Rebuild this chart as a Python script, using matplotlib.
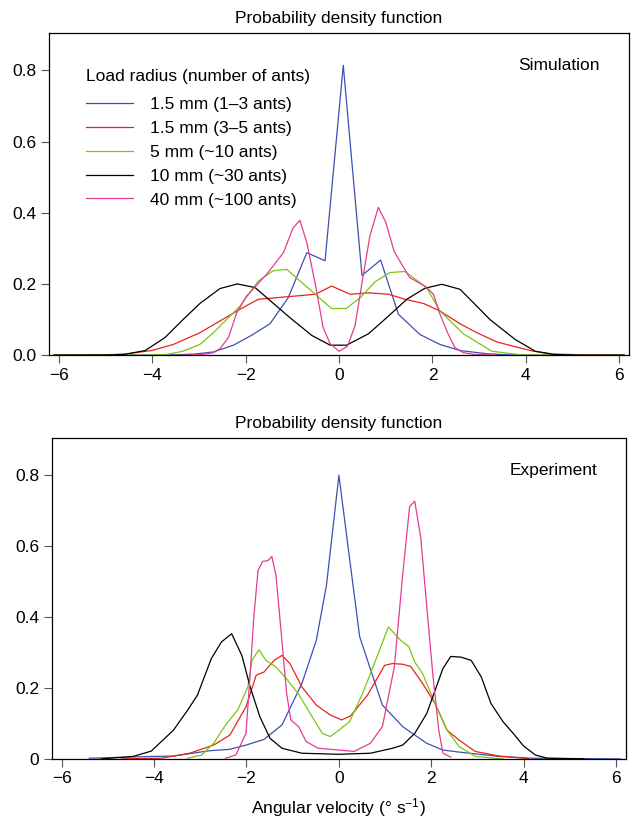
import numpy as np
import matplotlib
matplotlib.use('Agg')
from matplotlib import pyplot as plt

plt.rcParams['font.family'] = ['Liberation Sans', 'DejaVu Sans']
plt.rcParams['mathtext.fontset'] = 'custom'
plt.rcParams['mathtext.rm'] = 'Liberation Sans'
plt.rcParams['mathtext.it'] = 'Liberation Sans:italic'

labels = ['1.5 mm (1\u20133 ants)', '1.5 mm (3\u20135 ants)', '5 mm (~10 ants)',
          '10 mm (~30 ants)', '40 mm (~100 ants)']
colors = ['#3e4fb4', '#e8241c', '#7cc413', '#000000', '#e53b93']

# simulation (top panel)
sim_blue_x = [-6.1, -4.5, -3.5, -3.1, -2.69, -2.26, -1.87, -1.48, -1.09, -0.69, -0.30, 0.09,
              0.49, 0.89, 1.27, 1.73, 2.16, 2.59, 3.16, 3.6, 4.5, 6.1]
sim_blue_y = [0, 0, 0.001, 0.003, 0.009, 0.028, 0.056, 0.088, 0.161, 0.288, 0.265, 0.814,
              0.224, 0.267, 0.115, 0.058, 0.030, 0.013, 0.004, 0.001, 0, 0]
sim_red_x = [-6.1, -5.0, -4.58, -4.01, -3.55, -2.98, -2.55, -2.12, -1.73, -0.94, -0.51, -0.16,
             0.24, 0.63, 1.06, 1.41, 1.81, 2.16, 2.59, 2.95, 3.38, 3.73, 4.16, 4.59, 5.2, 6.1]
sim_red_y = [0, 0.001, 0.003, 0.013, 0.030, 0.063, 0.096, 0.129, 0.157, 0.166, 0.171, 0.194,
             0.171, 0.175, 0.171, 0.157, 0.145, 0.124, 0.088, 0.063, 0.037, 0.025, 0.011, 0.003, 0.001, 0]
sim_green_x = [-6.1, -4.2, -3.69, -3.34, -2.98, -2.69, -2.12, -1.73, -1.41, -1.12, -0.16, 0.15,
               0.45, 0.77, 1.09, 1.41, 1.87, 2.16, 2.66, 3.27, 3.88, 4.5, 6.1]
sim_green_y = [0, 0, 0.002, 0.011, 0.030, 0.063, 0.138, 0.208, 0.237, 0.241, 0.131, 0.131,
               0.161, 0.206, 0.232, 0.235, 0.19, 0.124, 0.06, 0.011, 0.001, 0, 0]
sim_black_x = [-6.1, -5.0, -4.6, -4.15, -3.73, -3.37, -2.98, -2.55, -2.18, -1.80, -1.42, -1.05,
               -0.58, -0.19, 0.16, 0.63, 1.06, 1.45, 1.84, 2.2, 2.59, 2.9, 3.23, 3.77, 4.2, 4.59, 5.2, 6.1]
sim_black_y = [0, 0.0005, 0.002, 0.013, 0.049, 0.096, 0.145, 0.187, 0.20, 0.19, 0.147, 0.105,
               0.055, 0.028, 0.028, 0.06, 0.11, 0.157, 0.188, 0.199, 0.185, 0.144, 0.10, 0.044, 0.011, 0.002, 0, 0]
sim_pink_x = [-3.4, -2.9, -2.69, -2.55, -2.37, -2.19, -1.98, -1.55, -1.19, -0.99, -0.84, -0.69,
              -0.51, -0.34, -0.19, 0.0, 0.18, 0.34, 0.50, 0.66, 0.84, 1.0, 1.18, 1.51, 1.86, 2.02,
              2.16, 2.34, 2.48, 2.66, 2.9, 3.4]
sim_pink_y = [0, 0.002, 0.007, 0.018, 0.049, 0.119, 0.166, 0.227, 0.288, 0.356, 0.379, 0.316,
              0.20, 0.077, 0.032, 0.011, 0.025, 0.082, 0.21, 0.335, 0.415, 0.373, 0.291, 0.218, 0.192, 0.171,
              0.115, 0.058, 0.021, 0.007, 0.002, 0]

# experiment (bottom panel)
exp_blue_x = [-5.4, -4.01, -3.58, -2.80, -2.36, -2.01, -1.62, -1.23, -0.80, -0.49, -0.27, 0.0,
              0.20, 0.45, 0.94, 1.38, 1.90, 2.25, 2.68, 3.47, 4.16, 6.1]
exp_blue_y = [0.002, 0.007, 0.008, 0.023, 0.027, 0.039, 0.055, 0.096, 0.213, 0.334, 0.489, 0.80,
              0.596, 0.344, 0.152, 0.091, 0.044, 0.025, 0.018, 0.007, 0.002, 0]
exp_red_x = [-4.71, -3.84, -3.23, -2.71, -2.36, -2.01, -1.79, -1.62, -1.4, -1.23, -1.06, -0.80,
             -0.49, -0.19, 0.06, 0.25, 0.62, 0.99, 1.16, 1.38, 1.55, 1.81, 2.08, 2.34, 2.6, 2.95,
             3.47, 3.99, 4.1]
exp_red_y = [0, 0.002, 0.016, 0.039, 0.067, 0.147, 0.236, 0.245, 0.278, 0.292, 0.269, 0.203,
             0.152, 0.124, 0.11, 0.121, 0.18, 0.264, 0.269, 0.267, 0.261, 0.213, 0.156, 0.081, 0.053, 0.021,
             0.008, 0.002, 0]
exp_green_x = [-3.27, -2.97, -2.71, -2.45, -2.19, -1.97, -1.88, -1.73, -1.58, -1.36, -1.14, -0.88,
               -0.62, -0.36, -0.19, 0.0, 0.23, 0.51, 0.85, 1.07, 1.34, 1.51, 1.64, 1.81, 2.08, 2.34,
               2.60, 2.95, 3.55]
exp_green_y = [0.002, 0.011, 0.044, 0.096, 0.138, 0.203, 0.278, 0.308, 0.278, 0.259, 0.227, 0.184,
               0.128, 0.072, 0.063, 0.081, 0.105, 0.184, 0.297, 0.372, 0.334, 0.317, 0.273, 0.241, 0.156, 0.081,
               0.035, 0.007, 0]
exp_black_x = [-5.14, -4.45, -4.06, -3.84, -3.58, -3.27, -3.06, -2.76, -2.54, -2.32, -2.1, -1.92,
               -1.71, -1.49, -1.23, -0.8, 0.0, 0.68, 1.16, 1.38, 1.64, 1.90, 2.25, 2.42, 2.64, 2.86,
               3.08, 3.29, 3.55, 3.77, 3.99, 4.25, 4.51, 5.3]
exp_black_y = [0, 0.007, 0.022, 0.049, 0.081, 0.138, 0.18, 0.283, 0.33, 0.353, 0.292, 0.203,
               0.119, 0.058, 0.030, 0.016, 0.013, 0.016, 0.030, 0.039, 0.072, 0.128, 0.255, 0.289, 0.287, 0.278,
               0.231, 0.156, 0.105, 0.072, 0.037, 0.011, 0.002, 0]
exp_pink_x = [-2.45, -2.23, -2.01, -1.93, -1.84, -1.75, -1.65, -1.54, -1.45, -1.36, -1.13, -1.04,
              -0.87, -0.71, -0.45, 0.0, 0.33, 0.68, 0.94, 1.2, 1.38, 1.53, 1.64, 1.77, 1.90, 2.03,
              2.16, 2.25, 2.42]
exp_pink_y = [0.002, 0.011, 0.072, 0.22, 0.40, 0.531, 0.557, 0.559, 0.571, 0.517, 0.184, 0.11,
              0.091, 0.049, 0.030, 0.025, 0.021, 0.044, 0.091, 0.26, 0.52, 0.712, 0.727, 0.625, 0.43, 0.24,
              0.081, 0.016, 0.005]

sim = [(sim_blue_x, sim_blue_y), (sim_red_x, sim_red_y), (sim_green_x, sim_green_y),
       (sim_black_x, sim_black_y), (sim_pink_x, sim_pink_y)]
exp = [(exp_blue_x, exp_blue_y), (exp_red_x, exp_red_y), (exp_green_x, exp_green_y),
       (exp_black_x, exp_black_y), (exp_pink_x, exp_pink_y)]

xticks = [-6, -4, -2, 0, 2, 4, 6]
yticks = [0, 0.2, 0.4, 0.6, 0.8]
fs = 12.5

fig = plt.figure(figsize=(6.32, 8.24), dpi=100)
ax1 = fig.add_axes([0.0775, 0.569, 0.918, 0.391])
ax2 = fig.add_axes([0.082, 0.079, 0.9085, 0.3894])

for ax, data in [(ax1, sim), (ax2, exp)]:
    for (x, y), c, lab in zip(data, colors, labels):
        ax.plot(x, y, color=c, lw=0.9, label=lab)
    ax.set_xlim(-6.21, 6.21)
    ax.set_ylim(0, 0.905)
    ax.set_xticks(xticks)
    ax.set_yticks(yticks)
    ax.tick_params(direction='out', length=6, width=0.8, color='#555555',
                   labelsize=fs, pad=3)
    for s in ax.spines.values():
        s.set_linewidth(0.9)
    ax.set_title('Probability density function', fontsize=fs, pad=7)

ax1.set_yticklabels(['0.0', '0.2', '0.4', '0.6', '0.8'])
ax2.set_yticklabels(['0', '0.2', '0.4', '0.6', '0.8'])

ax1.text(0.95, 0.9, 'Simulation', transform=ax1.transAxes, ha='right', va='center', fontsize=fs)
ax2.text(0.95, 0.9, 'Experiment', transform=ax2.transAxes, ha='right', va='center', fontsize=fs)

ax1.text(0.064, 0.864, 'Load radius (number of ants)', transform=ax1.transAxes,
         ha='left', va='center', fontsize=fs)
leg = ax1.legend(loc='upper left', bbox_to_anchor=(0.064, 0.801), frameon=False,
                 fontsize=fs, handlelength=2.7, handletextpad=0.98, labelspacing=0.5,
                 borderaxespad=0, borderpad=0)

ax2.set_xlabel('Angular velocity (\u00b0 s$^{\u22121}$)', fontsize=fs, labelpad=7)

plt.savefig('out.png', dpi=100)
plt.close()
